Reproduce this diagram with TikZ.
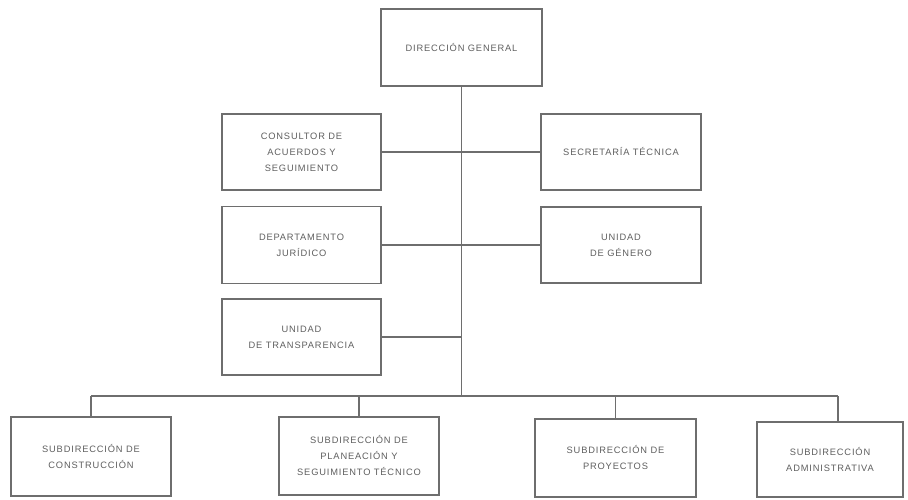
\documentclass[tikz,border=0pt]{standalone}
\usepackage{fontspec}
\setmainfont{Liberation Sans}
\newfontfamily\orgfont[LetterSpace=9]{Liberation Sans}
\definecolor{linec}{RGB}{110,110,110}
\definecolor{textc}{RGB}{95,95,95}
\begin{document}
\begin{tikzpicture}[x=1pt,y=-1pt,
  orgbox/.style={draw=linec,line width=1.2pt,rectangle,minimum width=160pt,minimum height=77pt,
    align=center,text=textc,font=\orgfont\fontsize{9.3}{16}\selectfont,inner sep=2pt},
  conn/.style={draw=linec,line width=1.05pt}]
\useasboundingbox (0,0) rectangle (908,499);
\fill[white] (0,0) rectangle (908,499);
\node[orgbox,minimum width=161pt] (dg) at (461.5,47.5) {DIRECCIÓN GENERAL};
\node[orgbox,minimum width=159pt,minimum height=76pt] (cons) at (301.5,152) {CONSULTOR DE\\ACUERDOS Y\\SEGUIMIENTO};
\node[orgbox,minimum height=76pt] (sec) at (621,152) {SECRETARÍA TÉCNICA};
\node[orgbox,minimum width=159pt] (dep) at (301.5,245) {DEPARTAMENTO\\JURÍDICO};
\node[orgbox,minimum height=76pt] (gen) at (621,245) {UNIDAD\\DE GÉNERO};
\node[orgbox,minimum width=159pt,minimum height=76pt] (trans) at (301.5,337) {UNIDAD\\DE TRANSPARENCIA};
\node[orgbox,minimum height=79pt] (sc) at (91,456.5) {SUBDIRECCIÓN DE\\CONSTRUCCIÓN};
\node[orgbox,minimum height=78pt] (sp) at (359,456) {SUBDIRECCIÓN DE\\PLANEACIÓN Y\\SEGUIMIENTO TÉCNICO};
\node[orgbox,minimum width=161pt,minimum height=78pt] (spy) at (615.5,458) {SUBDIRECCIÓN DE\\PROYECTOS};
\node[orgbox,minimum width=146pt,minimum height=75pt] (sa) at (830,459.5) {SUBDIRECCIÓN\\ADMINISTRATIVA};
\coordinate (bus) at (461.5,396);
\coordinate (busL) at (91,396);
\coordinate (busR) at (838,396);
\coordinate (saTop) at (838,422);
\draw[conn] (dg.south) -- (bus);
\draw[conn] (cons.east) -- (sec.west);
\draw[conn] (dep.east) -- (gen.west);
\draw[conn] (trans.east) -- (trans.east -| bus);
\draw[conn] (busL) -- (busR);
\draw[conn] (busL) -- (sc.north);
\draw[conn] (sp.north |- bus) -- (sp.north);
\draw[conn] (spy.north |- bus) -- (spy.north);
\draw[conn] (busR) -- (saTop);
\end{tikzpicture}
\end{document}
